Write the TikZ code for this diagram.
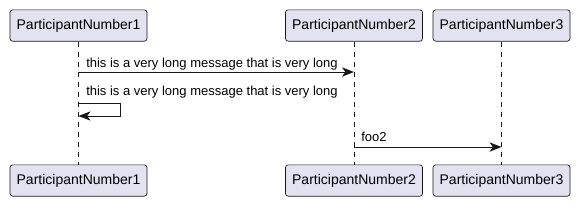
\documentclass[tikz,border=0pt]{standalone}
\usepackage{fontspec}
\setmainfont{Liberation Sans}
\usetikzlibrary{arrows.meta}
\definecolor{pfill}{HTML}{E2E2F0}
\definecolor{pline}{HTML}{181818}
\begin{document}
\begin{tikzpicture}[x=0.75pt,y=-0.75pt,
  part/.style={draw=pline,fill=pfill,line width=0.5pt,rounded corners=2pt,
    minimum width=102.75pt,minimum height=23.5pt,inner sep=0pt,font=\fontsize{10.5pt}{12pt}\selectfont},
  life/.style={draw=pline,line width=0.5pt,dash pattern=on 3.75pt off 3.75pt},
  msg/.style={draw=pline,line width=0.75pt,-{Stealth[length=9pt,width=7pt,inset=2.5pt]}},
  lbl/.style={font=\fontsize{9.75pt}{11pt}\selectfont,inner sep=0pt,anchor=base west}]
\useasboundingbox (0,0) rectangle (580,207);
\node[part] (p1t) at (78.5,25.5) {ParticipantNumber1};
\node[part] (p2t) at (354,25.5) {ParticipantNumber2};
\node[part] (p3t) at (501.5,25.5) {ParticipantNumber3};
\node[part] (p1b) at (78.5,180.5) {ParticipantNumber1};
\node[part] (p2b) at (354,180.5) {ParticipantNumber2};
\node[part] (p3b) at (501.5,180.5) {ParticipantNumber3};
\draw[life] (p1t) -- (p1b);
\draw[life] (p2t) -- (p2b);
\draw[life] (p3t) -- (p3b);
\coordinate (y1) at (0,72);
\coordinate (y2a) at (0,103);
\coordinate (y2b) at (0,116);
\coordinate (y3) at (0,147);
\coordinate (xl) at (120,0);
\draw[msg] (p1t.south |- y1) -- (p2t.south |- y1);
\draw[msg] (p1t.south |- y2a) -- (xl |- y2a) -- (xl |- y2b) -- (p1t.south |- y2b);
\draw[msg] (p2t.south |- y3) -- (p3t.south |- y3);
\node[lbl] (t1) at (86,67.5) {this is a very long message that is very long};
\node[lbl] (t2) at (86,95) {this is a very long message that is very long};
\node[lbl] (t3) at (361,141) {foo2};
\end{tikzpicture}
\end{document}
